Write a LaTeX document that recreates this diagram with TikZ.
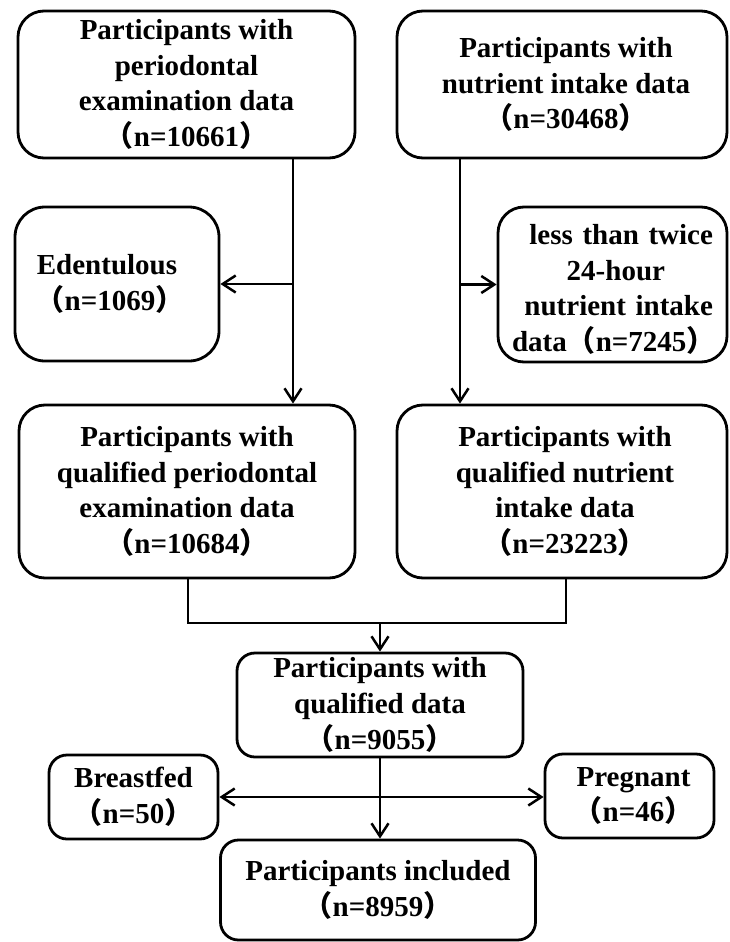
\documentclass[tikz,border=0pt]{standalone}
\usepackage{fontspec}
\setmainfont{Liberation Serif}
\newfontfamily\cjk{Noto Sans CJK SC}
\usetikzlibrary{arrows.meta}
\newcommand\lpar{{\cjk （}}
\newcommand\rpar{{\cjk ）}}
\begin{document}
\begin{tikzpicture}[x=1pt,y=-1pt,
  box/.style={draw,line width=2.8pt,rounded corners=26pt,align=center,
    inner sep=0pt,font=\fontsize{29}{35.6}\selectfont\bfseries,
    execute at begin node={\rule{0pt}{30pt}}},
  sbox/.style={box,rounded corners=18pt},
  conn/.style={line width=2.5pt},
  arr/.style={conn,-{Straight Barb[length=13pt,width=17pt,line width=2.5pt]}}]
\useasboundingbox (0,0) rectangle (729,942);
% boxes
\node[box,minimum width=337pt,minimum height=147pt] (A) at (186.5,84.5)
  {Participants with\\periodontal\\examination data\\\lpar n=10661\rpar};
\node[box,minimum width=330pt,minimum height=147pt] (B) at (562,84.5)
  {\mbox{\hspace{8pt}Participants with}\\\mbox{\hspace{8pt}nutrient intake data}\\\mbox{\hspace{8pt}\lpar n=30468\rpar}};
\node[box,rounded corners=30pt,minimum width=204pt,minimum height=154pt] (Ed) at (117,284)
  {\mbox{Edentulous\hspace{20pt}}\\\mbox{\lpar n=1069\rpar\hspace{14pt}}};
\node[box,align=right,text width=201pt,minimum width=229pt,minimum height=155pt] (L) at (612.5,284.5)
  {less than twice\\\mbox{24-hour\hspace{48pt}}\\nutrient intake\\data\lpar n=7245\rpar};
\node[box,minimum width=336pt,minimum height=173pt] (C) at (187,491.5)
  {Participants with\\qualified periodontal\\examination data\\\lpar n=10684\rpar};
\node[box,minimum width=330pt,minimum height=173pt] (D) at (562,491.5)
  {\mbox{\hspace{6pt}Participants with}\\\mbox{\hspace{6pt}qualified nutrient}\\\mbox{\hspace{6pt}intake data}\\\mbox{\hspace{6pt}\lpar n=23223\rpar}};
\node[sbox,minimum width=286pt,minimum height=104pt] (E) at (380,705)
  {Participants with\\qualified data\\\lpar n=9055\rpar};
\node[sbox,minimum width=169pt,minimum height=84pt] (Br) at (133.5,797)
  {Breastfed\\\lpar n=50\rpar};
\node[sbox,minimum width=169pt,minimum height=84pt] (Pr) at (629.5,796)
  {\mbox{\hspace{8pt}Pregnant}\\\mbox{\hspace{8pt}\lpar n=46\rpar}};
\node[sbox,minimum width=315pt,minimum height=100pt] (F) at (378,890)
  {Participants included\\\lpar n=8959\rpar};
% helper coordinates
\coordinate (xA) at (293,0);
\coordinate (xB) at (460,0);
\coordinate (xC) at (188,0);
\coordinate (xD) at (566,0);
\coordinate (m) at (380,623);
\coordinate (h) at (380,797);
% connectors
\draw[arr] (A.south -| xA) -- (C.north -| xA);
\draw[arr] (xA |- Ed.east) -- (Ed.east);
\draw[arr] (B.south -| xB) -- (D.north -| xB);
\draw[arr] (xB |- L.west) -- (L.west);
\draw[conn] (C.south -| xC) -- (xC |- m) -- (xD |- m) -- (D.south -| xD);
\draw[arr] (m) -- (E.north);
\draw[arr] (E.south) -- (E.south |- F.north);
\draw[arr] (h) -- (Br.east);
\draw[arr] (h) -- (Pr.west |- h);
\end{tikzpicture}
\end{document}
